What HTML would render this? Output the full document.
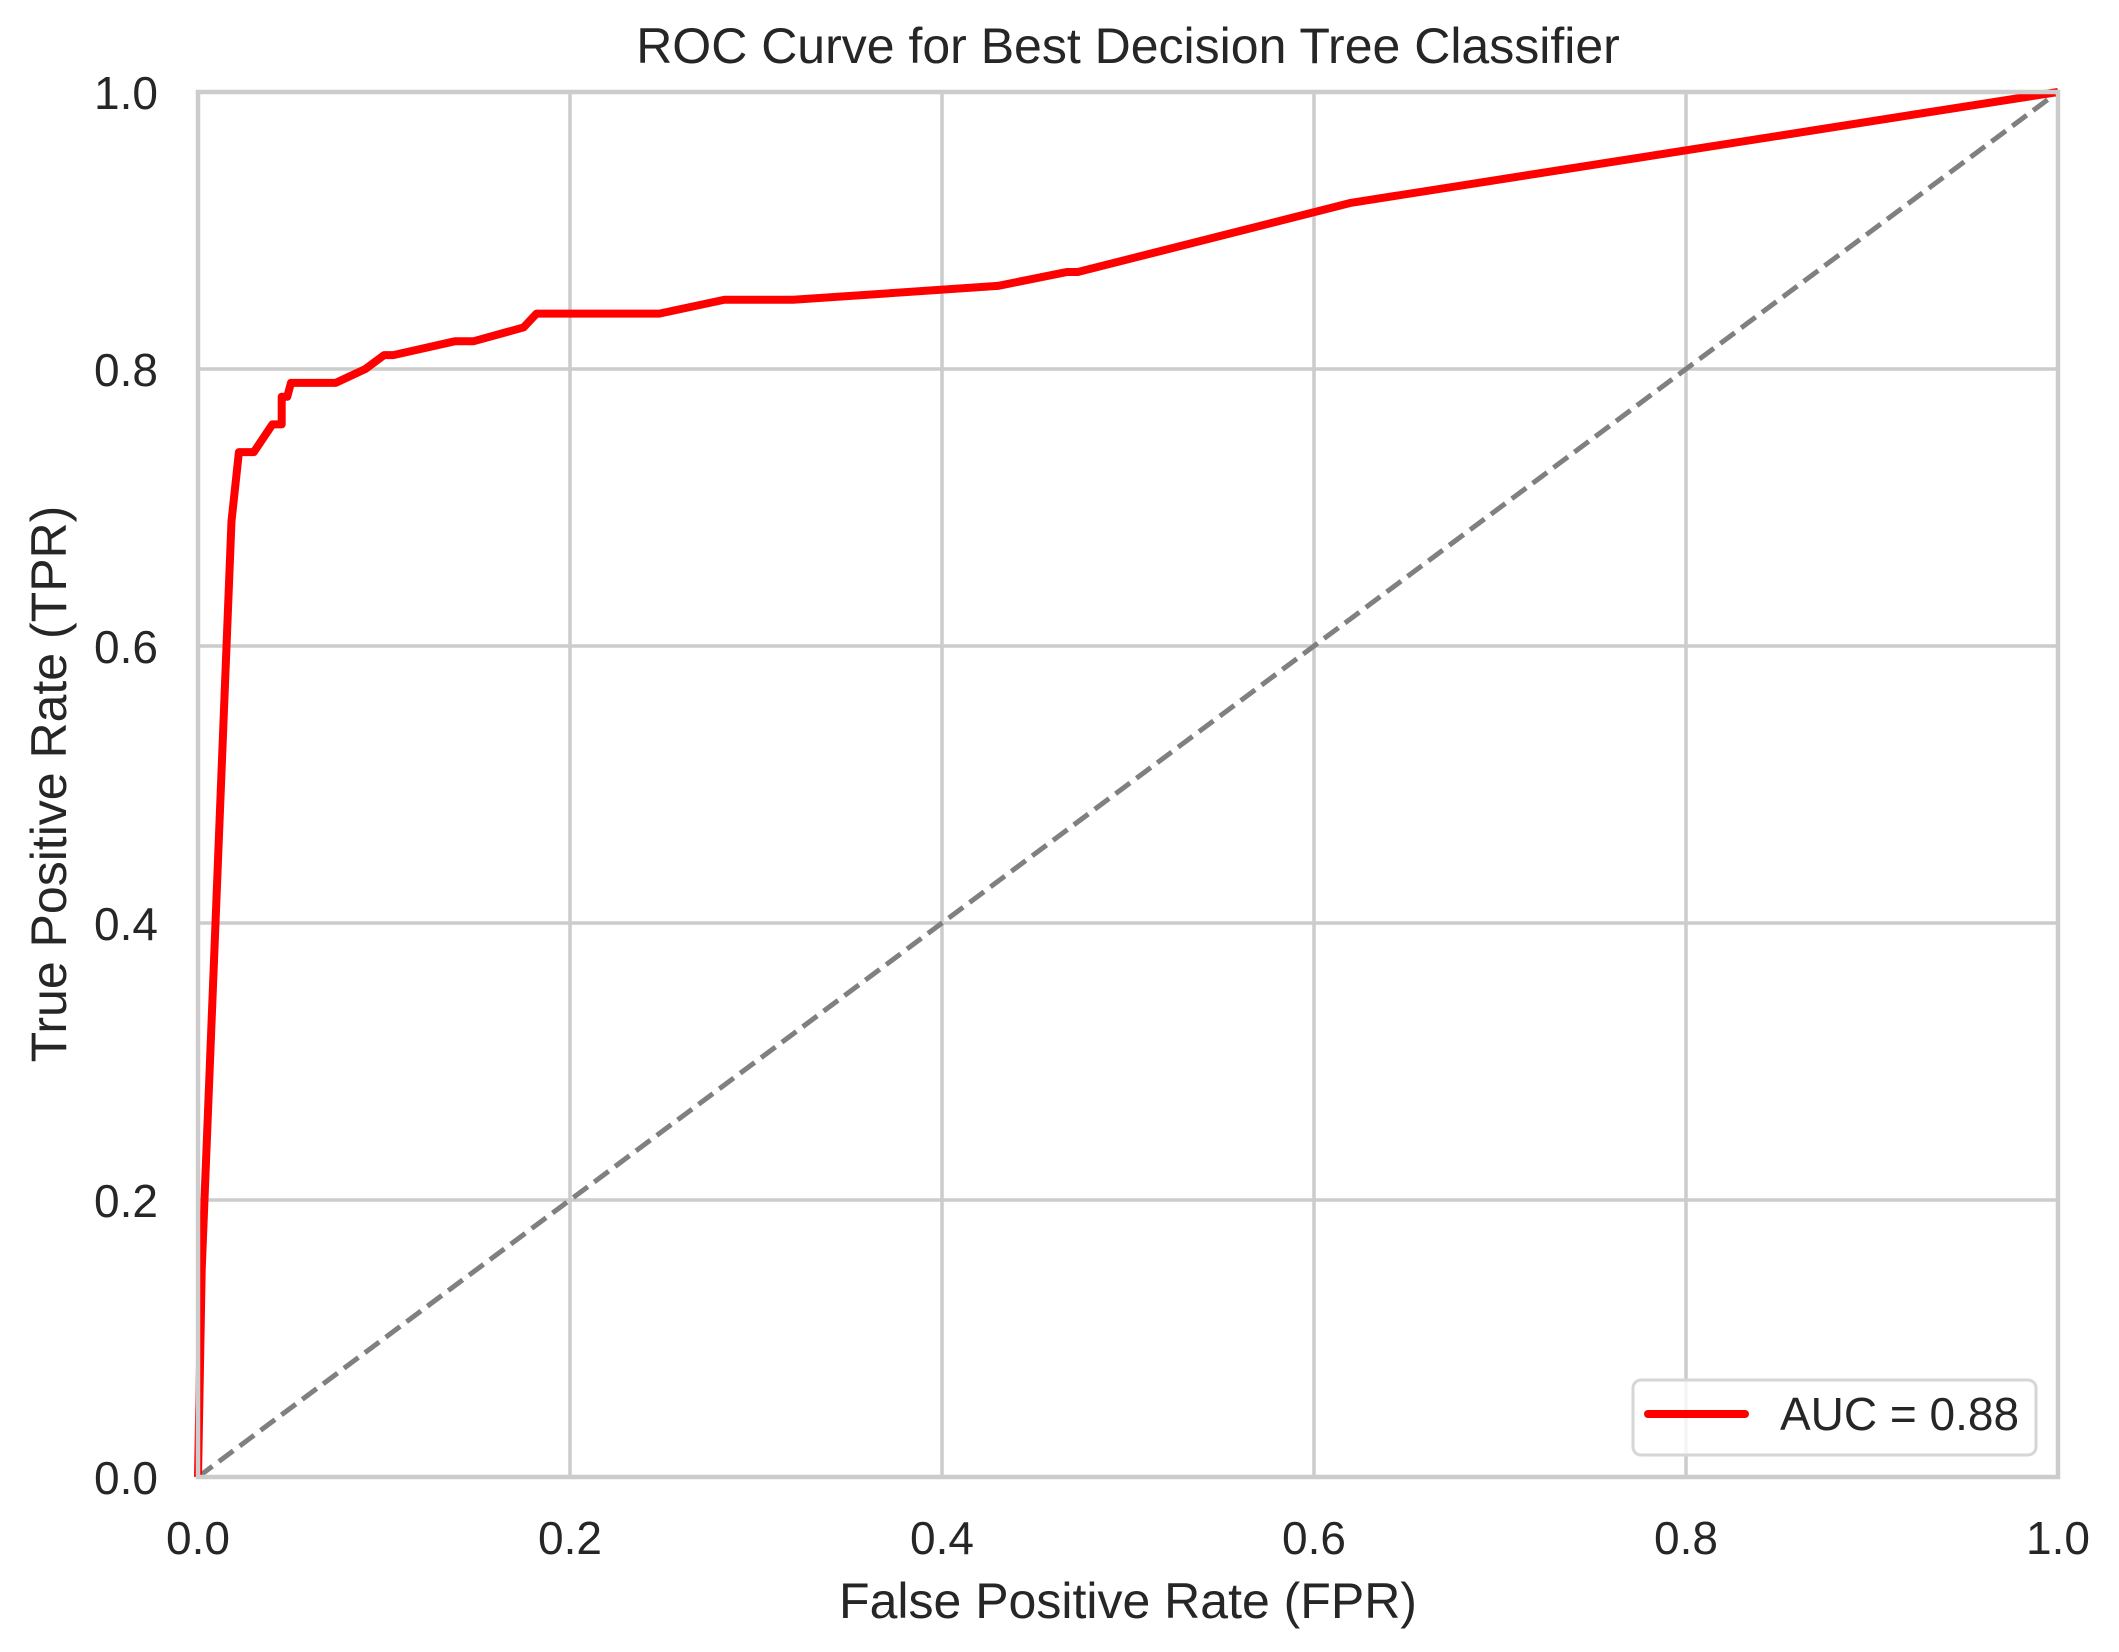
<!DOCTYPE html>
<html><head><meta charset="utf-8"><style>
html,body{margin:0;padding:0;background:#fff;}
svg{display:block;font-family:"Liberation Sans",Arial,sans-serif;}
</style></head><body>
<svg id="chart" width="2119" height="1652" viewBox="0 0 2119 1652">
<rect width="2119" height="1652" fill="#fff"/>
<g id="grid"></g>
<g id="series"></g>
<rect x="198" y="92" width="1860" height="1385" fill="none" stroke="#cccccc" stroke-width="4.5"/>
<g id="ticks"></g>
<text x="1128" y="63" font-size="50" fill="#262626" text-anchor="middle">ROC Curve for Best Decision Tree Classifier</text>
<text x="1128" y="1618" font-size="50" fill="#262626" text-anchor="middle">False Positive Rate (FPR)</text>
<text transform="translate(66,784) rotate(-90)" font-size="50" fill="#262626" text-anchor="middle">True Positive Rate (TPR)</text>
<g>
<rect x="1633" y="1380" width="403" height="75" rx="8" fill="#fff" fill-opacity="0.8" stroke="#d6d6d6" stroke-width="3"/>
<line x1="1648" y1="1414" x2="1745" y2="1414" stroke="#ff0000" stroke-width="8" stroke-linecap="round"/>
<text x="1780" y="1430" font-size="46" fill="#262626">AUC = 0.88</text>
</g>
</svg>
<script>
const xTicks = [0, 0.2, 0.4, 0.6, 0.8, 1.0];
const yTicks = [0, 0.2, 0.4, 0.6, 0.8, 1.0];
const tickLabels = ["0.0", "0.2", "0.4", "0.6", "0.8", "1.0"];
const fpr = [0, 0.002, 0.018, 0.022, 0.03, 0.04, 0.045, 0.045, 0.048, 0.05, 0.074, 0.09, 0.1, 0.105, 0.138, 0.148, 0.175, 0.182, 0.248, 0.283, 0.32, 0.43, 0.467, 0.473, 0.62, 1.0];
const tpr = [0, 0.15, 0.69, 0.74, 0.74, 0.76, 0.76, 0.78, 0.78, 0.79, 0.79, 0.80, 0.81, 0.81, 0.82, 0.82, 0.83, 0.84, 0.84, 0.85, 0.85, 0.86, 0.87, 0.87, 0.92, 1.0];
const diagX = [0, 1];
const diagY = [0, 1];

const X0 = 198, X1 = 2058, Y0 = 1477, Y1 = 92;
const sx = v => X0 + v * (X1 - X0);
const sy = v => Y0 - v * (Y0 - Y1);
const NS = "http://www.w3.org/2000/svg";
const grid = document.getElementById('grid');
const ticks = document.getElementById('ticks');
const series = document.getElementById('series');

xTicks.forEach((v, i) => {
  const l = document.createElementNS(NS, 'line');
  l.setAttribute('x1', sx(v)); l.setAttribute('x2', sx(v));
  l.setAttribute('y1', Y1); l.setAttribute('y2', Y0);
  l.setAttribute('stroke', '#cccccc'); l.setAttribute('stroke-width', '3.5');
  
  
  grid.appendChild(l);
  const t = document.createElementNS(NS, 'text');
  t.setAttribute('x', sx(v)); t.setAttribute('y', 1554);
  t.setAttribute('font-size', '46'); t.setAttribute('fill', '#262626');
  t.setAttribute('text-anchor', 'middle');
  t.textContent = tickLabels[i];
  
  
  ticks.appendChild(t);
});
yTicks.forEach((v, i) => {
  const l = document.createElementNS(NS, 'line');
  l.setAttribute('x1', X0); l.setAttribute('x2', X1);
  l.setAttribute('y1', sy(v)); l.setAttribute('y2', sy(v));
  l.setAttribute('stroke', '#cccccc'); l.setAttribute('stroke-width', '3.5');
  
  
  grid.appendChild(l);
  const t = document.createElementNS(NS, 'text');
  t.setAttribute('x', 158); t.setAttribute('y', sy(v) + 17);
  t.setAttribute('font-size', '46'); t.setAttribute('fill', '#262626');
  t.setAttribute('text-anchor', 'end');
  t.textContent = tickLabels[i];
  
  
  ticks.appendChild(t);
});

const d = document.createElementNS(NS, 'polyline');
d.setAttribute('points', diagX.map((v, i) => sx(v) + ',' + sy(diagY[i])).join(' '));
d.setAttribute('fill', 'none'); d.setAttribute('stroke', '#808080');
d.setAttribute('stroke-width', '5'); d.setAttribute('stroke-dasharray', '18 8');


series.appendChild(d);

const r = document.createElementNS(NS, 'polyline');
r.setAttribute('points', fpr.map((v, i) => sx(v) + ',' + sy(tpr[i])).join(' '));
r.setAttribute('fill', 'none'); r.setAttribute('stroke', '#ff0000');
r.setAttribute('stroke-width', '8'); r.setAttribute('stroke-linejoin', 'round');


series.appendChild(r);
</script>
</body></html>
